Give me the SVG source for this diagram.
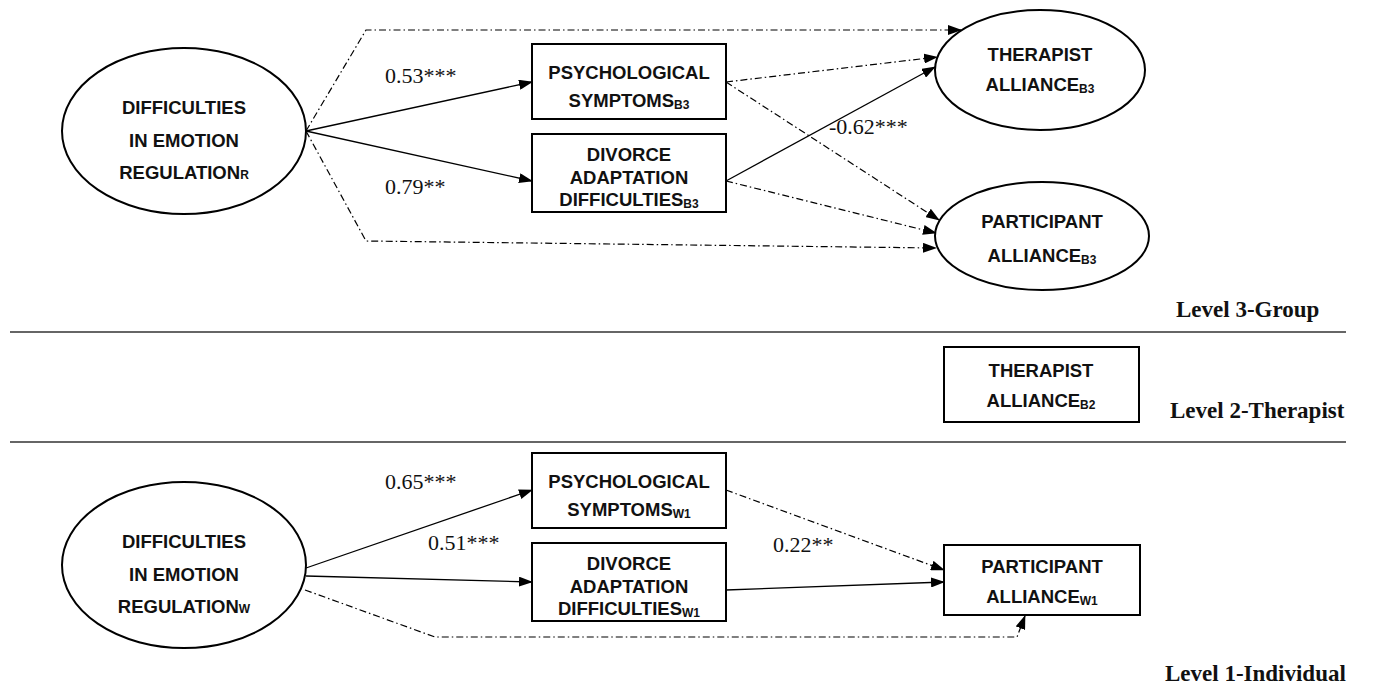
<svg xmlns="http://www.w3.org/2000/svg" width="1374" height="686" viewBox="0 0 1374 686">
<style>
.node{fill:#fff;stroke:#000;stroke-width:2}
.nt{font-family:"Liberation Sans",Arial,sans-serif;font-weight:bold;font-size:18.5px;fill:#111;text-anchor:middle}
.sub{font-size:12px}
.solid{fill:none;stroke:#000;stroke-width:1.3}
.dash{fill:none;stroke:#000;stroke-width:1.2;stroke-dasharray:7,3,1.5,3}
.coef{font-family:"Liberation Serif","Times New Roman",serif;font-size:22px;fill:#111}
.lvl{font-family:"Liberation Serif","Times New Roman",serif;font-weight:bold;font-size:23px;fill:#111}
.sep{stroke:#666;stroke-width:2}
</style>
<defs>
<marker id="ah" markerUnits="userSpaceOnUse" markerWidth="14" markerHeight="10" refX="13" refY="5" orient="auto">
<path d="M0,0 L14,5 L0,10 Z" fill="#000"/>
</marker>
</defs>

<g id="separators">
<line class="sep" x1="10" y1="332" x2="1346" y2="332"/>
<line class="sep" x1="10" y1="442" x2="1346" y2="442"/>
</g>

<g id="connectors">
<line class="solid" x1="306" y1="131" x2="532" y2="82" marker-end="url(#ah)"/>
<line class="solid" x1="306" y1="131" x2="532" y2="181" marker-end="url(#ah)"/>
<polyline class="dash" points="306,131 366,30 961,30" marker-end="url(#ah)"/>
<polyline class="dash" points="306,131 366,241 936,248" marker-end="url(#ah)"/>
<line class="dash" x1="726" y1="82" x2="937" y2="57" marker-end="url(#ah)"/>
<line class="dash" x1="726" y1="82" x2="939" y2="220" marker-end="url(#ah)"/>
<line class="solid" x1="726" y1="181" x2="935" y2="67" marker-end="url(#ah)"/>
<line class="dash" x1="726" y1="181" x2="936" y2="233" marker-end="url(#ah)"/>

<line class="solid" x1="306" y1="568" x2="532" y2="490" marker-end="url(#ah)"/>
<line class="solid" x1="306" y1="576" x2="532" y2="582" marker-end="url(#ah)"/>
<polyline class="dash" points="305,590 435,637 1017,637 1025,616" marker-end="url(#ah)"/>
<line class="dash" x1="726" y1="490" x2="944" y2="570" marker-end="url(#ah)"/>
<line class="solid" x1="726" y1="590" x2="944" y2="582" marker-end="url(#ah)"/>

<text class="coef" x="385" y="83">0.53***</text>
<text class="coef" x="385" y="194">0.79**</text>
<text class="coef" x="829" y="134">-0.62***</text>
<text class="coef" x="385" y="489">0.65***</text>
<text class="coef" x="428" y="550">0.51***</text>
<text class="coef" x="773" y="552">0.22**</text>
</g>

<g id="erB">
<ellipse class="node" cx="184" cy="131" rx="122" ry="83"/>
<text class="nt" x="184" y="114">DIFFICULTIES</text>
<text class="nt" x="184" y="147">IN EMOTION</text>
<text class="nt" x="184" y="179">REGULATION<tspan class="sub">R</tspan></text>
</g>

<g id="psB3">
<rect class="node" x="532" y="44" width="194" height="75"/>
<text class="nt" x="629" y="79">PSYCHOLOGICAL</text>
<text class="nt" x="629" y="107">SYMPTOMS<tspan class="sub" dy="2">B3</tspan></text>
</g>

<g id="daB3">
<rect class="node" x="532" y="134" width="194" height="78"/>
<text class="nt" x="629" y="161">DIVORCE</text>
<text class="nt" x="629" y="184">ADAPTATION</text>
<text class="nt" x="629" y="206">DIFFICULTIES<tspan class="sub" dy="2">B3</tspan></text>
</g>

<g id="thB3">
<ellipse class="node" cx="1040" cy="70" rx="105" ry="60"/>
<text class="nt" x="1040" y="61">THERAPIST</text>
<text class="nt" x="1040" y="91">ALLIANCE<tspan class="sub" dy="2">B3</tspan></text>
</g>

<g id="paB3">
<ellipse class="node" cx="1042" cy="236" rx="107" ry="54"/>
<text class="nt" x="1042" y="228">PARTICIPANT</text>
<text class="nt" x="1042" y="262">ALLIANCE<tspan class="sub" dy="2">B3</tspan></text>
</g>

<g id="thB2">
<rect class="node" x="944" y="347" width="195" height="75"/>
<text class="nt" x="1041" y="377">THERAPIST</text>
<text class="nt" x="1041" y="407">ALLIANCE<tspan class="sub" dy="2">B2</tspan></text>
</g>

<g id="psW1">
<rect class="node" x="532" y="453" width="194" height="75"/>
<text class="nt" x="629" y="488">PSYCHOLOGICAL</text>
<text class="nt" x="629" y="516">SYMPTOMS<tspan class="sub" dy="2">W1</tspan></text>
</g>

<g id="daW1">
<rect class="node" x="532" y="543" width="194" height="78"/>
<text class="nt" x="629" y="570">DIVORCE</text>
<text class="nt" x="629" y="593">ADAPTATION</text>
<text class="nt" x="629" y="615">DIFFICULTIES<tspan class="sub" dy="2">W1</tspan></text>
</g>

<g id="paW1">
<rect class="node" x="944" y="545" width="196" height="70"/>
<text class="nt" x="1042" y="573">PARTICIPANT</text>
<text class="nt" x="1042" y="603">ALLIANCE<tspan class="sub" dy="2">W1</tspan></text>
</g>

<g id="erW">
<ellipse class="node" cx="184" cy="565" rx="122" ry="83"/>
<text class="nt" x="184" y="548">DIFFICULTIES</text>
<text class="nt" x="184" y="581">IN EMOTION</text>
<text class="nt" x="184" y="613">REGULATION<tspan class="sub">W</tspan></text>
</g>

<g id="levels">
<text class="lvl" x="1176" y="317">Level 3-Group</text>
<text class="lvl" x="1170" y="418">Level 2-Therapist</text>
<text class="lvl" x="1165" y="681">Level 1-Individual</text>
</g>
</svg>
